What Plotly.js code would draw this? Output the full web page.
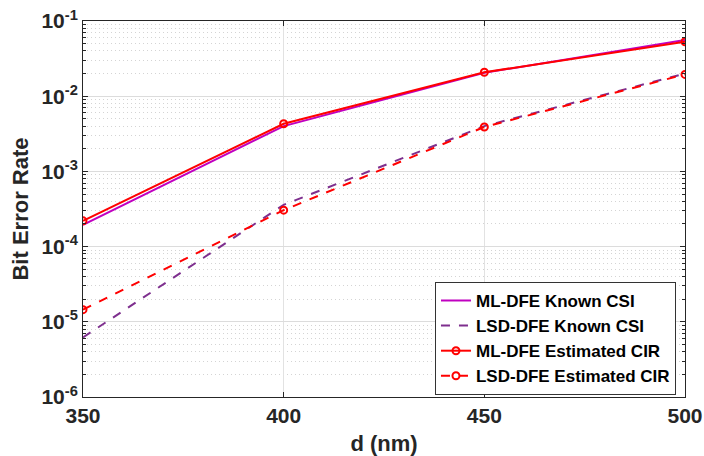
<!DOCTYPE html>
<html>
<head>
<meta charset="utf-8">
<script src="https://cdn.plot.ly/plotly-3.0.1.min.js"></script>
<style>html,body{margin:0;padding:0;background:#fff;}#chart{width:704px;height:456px;}</style>
</head>
<body>
<div id="chart"></div>
<script>
const dValues = [350, 400, 450, 500];
const mlKnown = [1.95e-4, 4.0e-3, 2.05e-2, 5.6e-2];
const lsdKnown = [6.2e-6, 3.6e-4, 4.0e-3, 2.0e-2];
const mlEst = [2.2e-4, 4.3e-3, 2.08e-2, 5.3e-2];
const lsdEst = [1.45e-5, 3.05e-4, 3.9e-3, 1.95e-2];
const seriesNames = ["ML-DFE Known CSI", "LSD-DFE Known CSI", "ML-DFE Estimated CIR", "LSD-DFE Estimated CIR"];
const yTickVals = [1e-6, 1e-5, 1e-4, 1e-3, 1e-2, 1e-1];
const yTickText = ["10<sup>-6</sup>", "10<sup>-5</sup>", "10<sup>-4</sup>", "10<sup>-3</sup>", "10<sup>-2</sup>", "10<sup>-1</sup>"];
const xTickVals = [350, 400, 450, 500];

const fontFam = "Liberation Sans, Arial, sans-serif";
const axisColor = "#262626";

const traces = [
  {x: dValues, y: mlKnown, name: seriesNames[0], mode: "lines",
   line: {color: "#C000C0", width: 2}},
  {x: dValues, y: lsdKnown, name: seriesNames[1], mode: "lines",
   line: {color: "#7E2F8E", width: 2, dash: "dash"}},
  {x: dValues, y: mlEst, name: seriesNames[2], mode: "lines+markers",
   line: {color: "#FF0000", width: 2},
   marker: {symbol: "circle-open", size: 7, color: "#FF0000", line: {width: 2}}},
  {x: dValues, y: lsdEst, name: seriesNames[3], mode: "lines+markers",
   line: {color: "#FF0000", width: 2, dash: "dash"},
   marker: {symbol: "circle-open", size: 7, color: "#FF0000", line: {width: 2}}}
];

const layout = {
  width: 704, height: 456,
  margin: {l: 83, r: 19, t: 21, b: 59},
  paper_bgcolor: "#fff", plot_bgcolor: "#fff",
  font: {family: fontFam, color: axisColor, size: 20, weight: "bold"},
  showlegend: true,
  legend: {
    x: 0.985, xanchor: "right", y: 0.306, yanchor: "top",
    bgcolor: "#fff", bordercolor: "#333", borderwidth: 1,
    font: {family: fontFam, size: 17, color: "#000", weight: "bold"},
    tracegroupgap: 0, itemwidth: 30
  },
  xaxis: {
    type: "linear", range: [350, 500],
    tickvals: xTickVals, ticktext: xTickVals.map(String),
    ticks: "inside", ticklen: 5, tickcolor: axisColor,
    showline: true, linecolor: axisColor, linewidth: 1, mirror: "ticks",
    showgrid: true, gridcolor: "#e2e2e2", gridwidth: 1,
    zeroline: false,
    tickfont: {family: fontFam, size: 21, color: axisColor, weight: "bold"},
    title: {text: "d (nm)", font: {family: fontFam, size: 22, color: axisColor, weight: "bold"}, standoff: 12}
  },
  yaxis: {
    type: "log", range: [-6, -1],
    tickvals: yTickVals, ticktext: yTickText,
    ticks: "inside", ticklen: 5, tickcolor: axisColor,
    showline: true, linecolor: axisColor, linewidth: 1, mirror: "ticks",
    showgrid: true, gridcolor: "#dcdcdc", gridwidth: 1,
    zeroline: false,
    tickfont: {family: fontFam, size: 21, color: axisColor, weight: "bold"},
    title: {text: "Bit Error Rate", font: {family: fontFam, size: 22, color: axisColor, weight: "bold"}, standoff: 6},
    minor: {dtick: "D1", showgrid: true, gridcolor: "#d4d4d4", griddash: "1px,3px", gridwidth: 1,
            ticks: "inside", ticklen: 3, tickcolor: axisColor}
  }
};

Plotly.newPlot("chart", traces, layout, {displayModeBar: false, staticPlot: true});
</script>
</body>
</html>
